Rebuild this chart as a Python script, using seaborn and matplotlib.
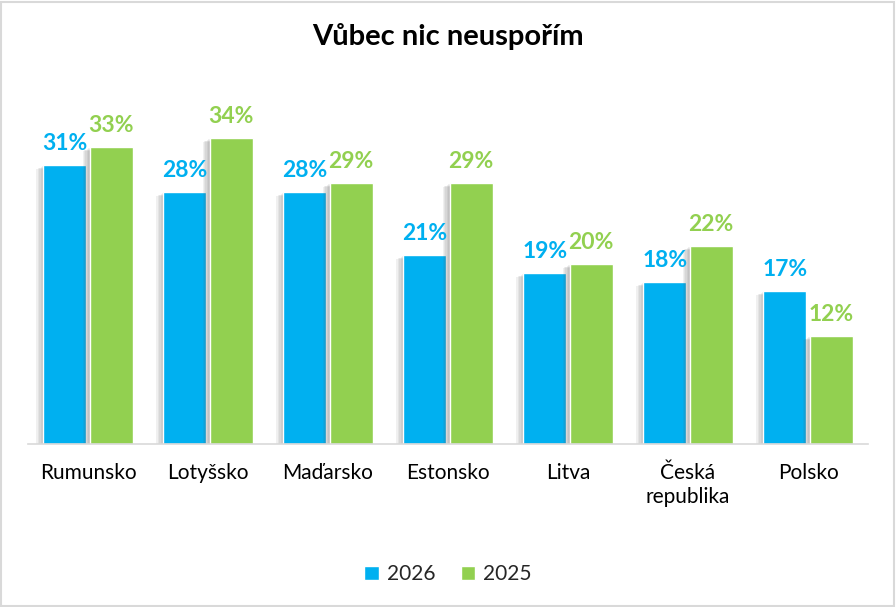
import pandas as pd
import seaborn as sns
import matplotlib.pyplot as plt
import matplotlib.patheffects as pe
from matplotlib.patches import Rectangle

# data
countries = ['Rumunsko', 'Lotyšsko', 'Maďarsko', 'Estonsko', 'Litva', 'Česká\nrepublika', 'Polsko']
vals_2026 = [31, 28, 28, 21, 19, 18, 17]
vals_2025 = [33, 34, 29, 29, 20, 22, 12]
years = ['2026', '2025']
colors = ['#00B0F0', '#92D050']

df = pd.DataFrame({
    'country': countries * 2,
    'year': [years[0]] * len(countries) + [years[1]] * len(countries),
    'value': vals_2026 + vals_2025,
})

sns.set_theme(style='white')
plt.rcParams['font.family'] = ['Lato', 'DejaVu Sans']

fig = plt.figure(figsize=(8.96, 6.07), dpi=100)
ax = fig.add_axes([0.03125, 0.2685, 0.9375, 0.593])

sns.barplot(data=df, x='country', y='value', hue='year', palette=colors,
            width=0.77, gap=0.07, saturation=1, ax=ax, legend=True)

# soft shadow: a few faint offset copies
shadow = [pe.SimplePatchShadow(offset=(-o, -o * 0.6), shadow_rgbFace='#606060', alpha=0.09)
          for o in (1, 2, 3, 4, 5)] + [pe.Normal()]
for cont, c in zip(ax.containers, colors):
    for bar in cont:
        bar.set_path_effects(shadow)
    ax.bar_label(cont, labels=[f'{int(v)}%' for v in cont.datavalues], color=c,
                 fontsize=16.5, fontweight='bold', padding=8)

ax.set_ylim(0, 40)
ax.set_xlim(-0.5, len(countries) - 0.5)
ax.set_xlabel('')
ax.set_ylabel('')
ax.set_yticks([])
for s in ['top', 'right', 'left']:
    ax.spines[s].set_visible(False)
ax.spines['bottom'].set_color('#d9d9d9')
ax.spines['bottom'].set_linewidth(1.2)
ax.tick_params(axis='x', length=0, pad=14, labelsize=15, labelcolor='#000000')

fig.text(0.5, 0.94, 'Vůbec nic neuspořím', ha='center', va='center',
         fontsize=21, fontweight='bold', color='#000000')

handles, labels = ax.get_legend_handles_labels()
ax.legend(handles, labels, loc='center', bbox_to_anchor=(0.5, 0.054),
          bbox_transform=fig.transFigure, ncol=2, frameon=False, fontsize=15,
          handlelength=0.7, handleheight=0.7, handletextpad=0.4, columnspacing=1.2)

fig.patches.append(Rectangle((0.001, 0.002), 0.997, 0.995, transform=fig.transFigure,
                             fill=False, edgecolor='#d9d9d9', linewidth=1.5))

fig.savefig('out.png', dpi=100)
